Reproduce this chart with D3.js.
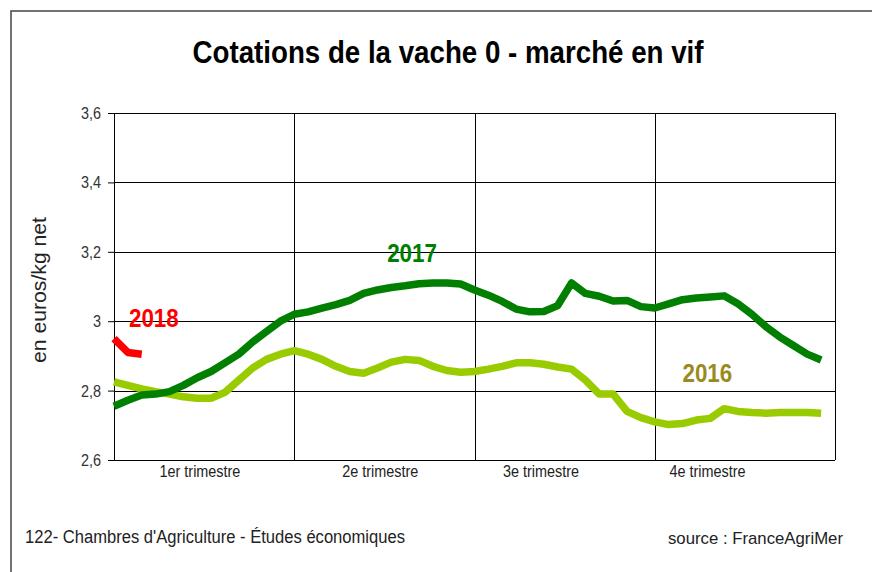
<!DOCTYPE html>
<html>
<head>
<meta charset="utf-8">
<script src="https://cdn.jsdelivr.net/npm/d3@7"></script>
<style>
  body { margin: 0; background: #fff; }
  svg { display: block; }
  text { font-family: "Liberation Sans", Arial, sans-serif; }
</style>
</head>
<body>
<script>
// weekly quotations, euros/kg net
const weeks = d3.range(1, 53);
const v2016 = [2.825, 2.815, 2.805, 2.797, 2.79, 2.782, 2.778, 2.778, 2.795, 2.83,
  2.865, 2.89, 2.905, 2.915, 2.905, 2.89, 2.87, 2.855, 2.85, 2.865,
  2.882, 2.89, 2.887, 2.87, 2.858, 2.853, 2.855, 2.862, 2.87, 2.88,
  2.88, 2.876, 2.868, 2.862, 2.83, 2.79, 2.79, 2.74, 2.722, 2.71,
  2.702, 2.705, 2.715, 2.72, 2.748, 2.74, 2.737, 2.735, 2.737, 2.737,
  2.737, 2.735];
const v2017 = [2.755, 2.772, 2.787, 2.79, 2.797, 2.815, 2.837, 2.855, 2.88, 2.905,
  2.94, 2.97, 3.0, 3.02, 3.027, 3.038, 3.048, 3.06, 3.08, 3.09,
  3.097, 3.102, 3.108, 3.11, 3.11, 3.107, 3.09, 3.075, 3.057, 3.035,
  3.027, 3.028, 3.045, 3.11, 3.08, 3.072, 3.058, 3.06, 3.042, 3.038,
  3.05, 3.062, 3.067, 3.07, 3.073, 3.05, 3.02, 2.985, 2.955, 2.93,
  2.905, 2.888];
const v2018 = [2.95, 2.91, 2.905];

const yTicks = [2.6, 2.8, 3.0, 3.2, 3.4, 3.6];
const quarterEdges = [1, 14, 27, 40, 53];
const quarterLabels = ["1er trimestre", "2e trimestre", "3e trimestre", "4e trimestre"];
const quarterLabelWeek = [7.2, 20.2, 31.8, 43.8];

const seriesNames = ["2016", "2017", "2018"];
const seriesColors = ["#99cc00", "#007f00", "#ff0000"];
const labelColors = ["#9a8a22", "#007f00", "#ff0000"];
const labelPos = [[42.0, 2.825], [20.7, 3.171], [2.08, 2.983]];

const W = 872, H = 572;
const plot = {left: 114, right: 835, top: 113, bottom: 460};

// squeeze text to look like a narrow font (no Arial Narrow here)
function condense(sel, factor) {
    sel.each(function() {
        const len = this.getComputedTextLength();
        d3.select(this)
            .attr("textLength", len * factor)
            .attr("lengthAdjust", "spacingAndGlyphs");
    });
}

const svg = d3.select("body").append("svg")
    .attr("width", W)
    .attr("height", H);

// outer frame (only left and top visible)
svg.append("rect")
    .attr("x", 11).attr("y", 11)
    .attr("width", W + 20).attr("height", H + 20)
    .attr("fill", "#fff")
    .attr("stroke", "#444")
    .attr("stroke-width", 1.5);

const x = d3.scaleLinear().domain([1, 53]).range([plot.left, plot.right]);
const y = d3.scaleLinear().domain([2.6, 3.6]).range([plot.bottom, plot.top]);

// y ticks
const yAxis = d3.axisLeft(y)
    .tickValues(yTicks)
    .tickSize(6)
    .tickPadding(7)
    .tickFormat(d => d3.format(".1f")(d).replace(".0", "").replace(".", ","));

const gy = svg.append("g")
    .attr("transform", `translate(${plot.left},0)`)
    .call(yAxis);
gy.select(".domain").remove();
gy.selectAll(".tick line").attr("stroke", "#000");
gy.selectAll(".tick text")
    .attr("font-family", "Liberation Sans, Arial, sans-serif")
    .attr("font-size", 17)
    .attr("fill", "#333")
    .call(condense, 0.85);

// horizontal grid
svg.append("g").selectAll("line")
    .data(yTicks)
  .join("line")
    .attr("x1", plot.left).attr("x2", plot.right)
    .attr("y1", d => Math.round(y(d)) + 0.5).attr("y2", d => Math.round(y(d)) + 0.5)
    .attr("stroke", "#000");

// vertical quarter lines
svg.append("g").selectAll("line")
    .data(quarterEdges)
  .join("line")
    .attr("x1", d => Math.round(x(d)) + 0.5).attr("x2", d => Math.round(x(d)) + 0.5)
    .attr("y1", plot.top).attr("y2", plot.bottom)
    .attr("stroke", "#000");

// quarter labels
svg.append("g").selectAll("text")
    .data(quarterLabels)
  .join("text")
    .attr("x", (d, i) => x(quarterLabelWeek[i]))
    .attr("y", 477)
    .attr("text-anchor", "middle")
    .attr("font-size", 16)
    .attr("fill", "#222")
    .text(d => d)
    .call(condense, 0.9);

// lines
const line = d3.line()
    .x((d, i) => x(weeks[i]))
    .y(d => y(d));

[v2016, v2017, v2018].forEach((vals, i) => {
    svg.append("path")
        .datum(vals)
        .attr("d", line)
        .attr("fill", "none")
        .attr("stroke", seriesColors[i])
        .attr("stroke-width", 7.5)
        .attr("stroke-linejoin", "round")
        .attr("stroke-linecap", "butt");
});

// series labels
svg.append("g").selectAll("text")
    .data(seriesNames)
  .join("text")
    .attr("x", (d, i) => x(labelPos[i][0]))
    .attr("y", (d, i) => y(labelPos[i][1]))
    .attr("font-weight", "bold")
    .attr("font-size", 26)
    .attr("fill", (d, i) => labelColors[i])
    .text(d => d)
    .call(condense, 0.86);

// title
svg.append("text")
    .attr("x", 448).attr("y", 63)
    .attr("text-anchor", "middle")
    .attr("font-size", 31)
    .attr("font-weight", "bold")
    .attr("fill", "#000")
    .attr("textLength", 511)
    .attr("lengthAdjust", "spacingAndGlyphs")
    .text("Cotations de la vache 0 - marché en vif");

// y axis title
svg.append("text")
    .attr("transform", "translate(46,290) rotate(-90)")
    .attr("text-anchor", "middle")
    .attr("font-size", 20)
    .attr("fill", "#222")
    .attr("textLength", 146)
    .attr("lengthAdjust", "spacingAndGlyphs")
    .text("en euros/kg net");

// footer
svg.append("text")
    .attr("x", 25).attr("y", 543)
    .attr("font-size", 18)
    .attr("fill", "#222")
    .attr("textLength", 380)
    .attr("lengthAdjust", "spacingAndGlyphs")
    .text("122- Chambres d'Agriculture - Études économiques");

svg.append("text")
    .attr("x", 843).attr("y", 544)
    .attr("text-anchor", "end")
    .attr("font-size", 17)
    .attr("fill", "#222")
    .attr("textLength", 175)
    .attr("lengthAdjust", "spacingAndGlyphs")
    .text("source : FranceAgriMer");
</script>
</body>
</html>
